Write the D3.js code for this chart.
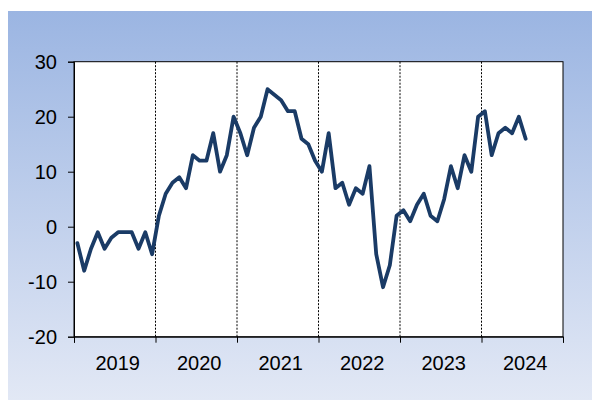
<!DOCTYPE html>
<html>
<head>
<meta charset="utf-8">
<script src="https://cdn.jsdelivr.net/npm/d3@7"></script>
<style>
  body { margin: 0; background: #fff; }
  svg { display: block; font-family: "Liberation Sans", Arial, sans-serif; }
</style>
</head>
<body>
<svg id="chart" width="592" height="400"></svg>
<script>
// monthly values, Jan 2019 .. Jul 2024
const years = ["2019", "2020", "2021", "2022", "2023", "2024"];
const values = [
  -3, -8, -4, -1, -4, -2, -1, -1, -1, -4, -1, -5,
  2, 6, 8, 9, 7, 13, 12, 12, 17, 10, 13, 20,
  17, 13, 18, 20, 25, 24, 23, 21, 21, 16, 15, 12,
  10, 17, 7, 8, 4, 7, 6, 11, -5, -11, -7, 2,
  3, 1, 4, 6, 2, 1, 5, 11, 7, 13, 10, 20,
  21, 13, 17, 18, 17, 20, 16
];
const yTicks = [-20, -10, 0, 10, 20, 30];

let margin = { top: 61.7, right: 29, bottom: 63.3, left: 74 };
const svg = d3.select("#chart");
const width = +svg.attr("width") - margin.left - margin.right;
const height = +svg.attr("height") - margin.top - margin.bottom;

// background panel gradient
const defs = svg.append("defs");
const grad = defs.append("linearGradient")
  .attr("id", "bg").attr("x1", 0).attr("y1", 0).attr("x2", 0).attr("y2", 1);
grad.append("stop").attr("offset", "0%").attr("stop-color", "#9bb5e2");
grad.append("stop").attr("offset", "100%").attr("stop-color", "#e2e8f5");

svg.append("rect")
  .attr("x", 8).attr("y", 11)
  .attr("width", 592 - 8).attr("height", 400 - 11)
  .attr("fill", "url(#bg)");

const g = svg.append("g").attr("transform", `translate(${margin.left}, ${margin.top})`);

const nMonths = years.length * 12;
const xScale = d3.scaleLinear().domain([0, nMonths]).range([0, width]);
const yScale = d3.scaleLinear().domain([-20, 30]).range([height, 0]);

// plot area
g.append("rect")
  .attr("width", width).attr("height", height)
  .attr("fill", "#fff")
  .attr("stroke", "#000").attr("stroke-width", 1);

// dotted year separators
const bounds = d3.range(12, nMonths, 12);
g.selectAll(".sep")
  .data(bounds)
  .enter().append("line")
  .attr("class", "sep")
  .attr("x1", d => xScale(d)).attr("x2", d => xScale(d))
  .attr("y1", 0).attr("y2", height)
  .attr("stroke", "#000").attr("stroke-width", 1)
  .attr("stroke-dasharray", "2,1.5");

// y axis
const yAxis = g.append("g")
  .call(d3.axisLeft(yScale).tickValues(yTicks).tickSize(6).tickPadding(11)
    .tickFormat(d => String(d)));
yAxis.select(".domain").attr("stroke", "#000");
yAxis.selectAll("text")
  .style("font-size", "20px").attr("fill", "#000")
  .attr("font-family", "Liberation Sans, Arial, sans-serif");

// x axis: ticks at year boundaries, labels centered in each year
const xAxis = g.append("g")
  .attr("transform", `translate(0, ${height})`)
  .call(d3.axisBottom(xScale).tickValues(d3.range(0, nMonths + 1, 12)).tickSize(6).tickFormat(""));
xAxis.select(".domain").attr("stroke", "#000");

g.selectAll(".year")
  .data(years)
  .enter().append("text")
  .attr("class", "year")
  .attr("x", (d, i) => xScale(i * 12 + 6) + 3)
  .attr("y", height + 33)
  .attr("text-anchor", "middle")
  .style("font-size", "20px")
  .attr("fill", "#000")
  .text(d => d);

// data line
const line = d3.line()
  .x((d, i) => xScale(i + 0.5))
  .y(d => yScale(d));

g.append("path")
  .datum(values)
  .attr("fill", "none")
  .attr("stroke", "#1a3b66")
  .attr("stroke-width", 3.8)
  .attr("stroke-linejoin", "round")
  .attr("stroke-linecap", "round")
  .attr("d", line);
</script>
</body>
</html>
